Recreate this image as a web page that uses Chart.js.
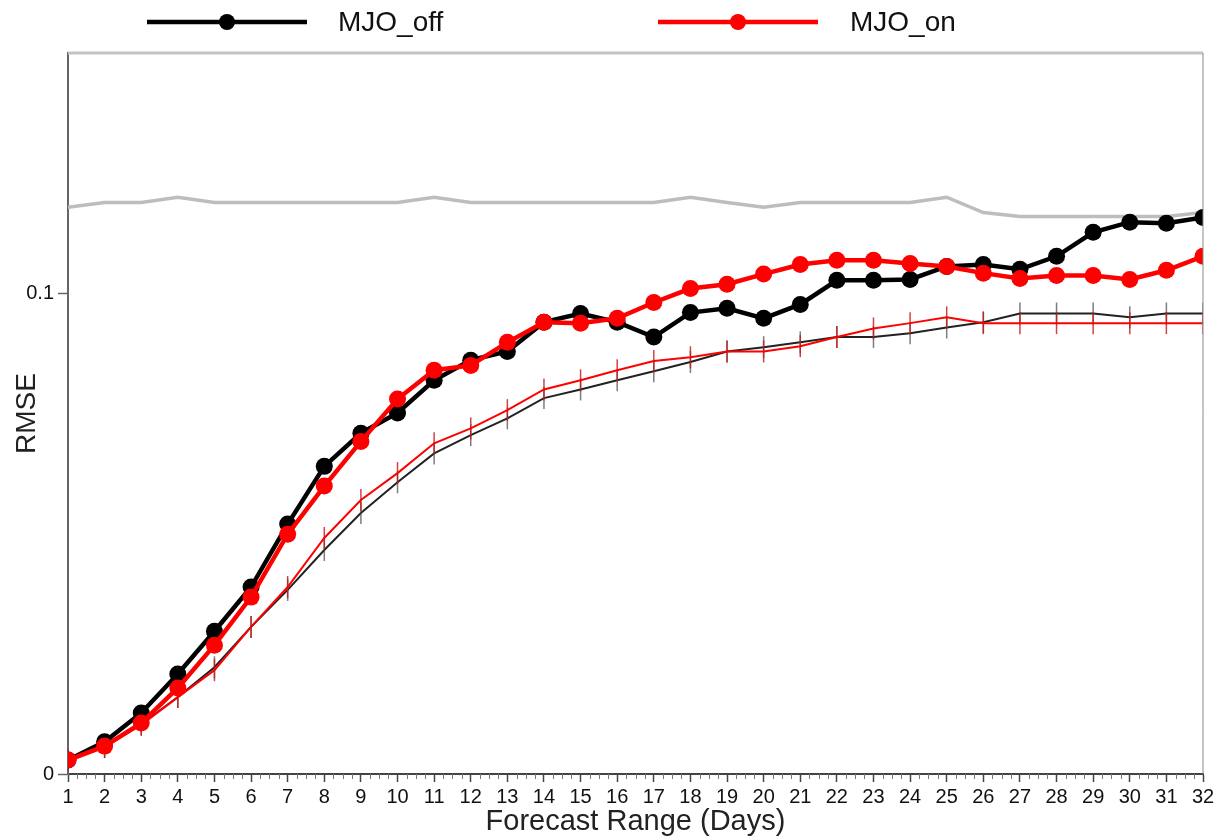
<!DOCTYPE html>
<html>
<head>
<meta charset="utf-8">
<script src="https://cdn.jsdelivr.net/npm/chart.js@4.4.1/dist/chart.umd.min.js"></script>
<style>
  html, body { margin: 0; padding: 0; background: #fff; }
  #wrap { width: 1219px; height: 839px; }
</style>
</head>
<body>
<div id="wrap"><canvas id="myChart" width="1219" height="839"></canvas></div>
<script>
const days = [1,2,3,4,5,6,7,8,9,10,11,12,13,14,15,16,17,18,19,20,21,22,23,24,25,26,27,28,29,30,31,32];
const yTicks = [0, 0.1];

const mjoOff = [0.0029,0.0067,0.0127,0.0208,0.0297,0.0389,0.0520,0.0640,0.0709,0.0751,0.0819,0.0861,0.0879,0.0940,0.0958,0.0940,
  0.0909,0.0960,0.0969,0.0948,0.0977,0.1027,0.1027,0.1029,0.1056,0.1060,0.1050,0.1077,0.1127,0.1148,0.1146,0.1158];
const mjoOn = [0.0029,0.0058,0.0106,0.0179,0.0268,0.0368,0.0499,0.0599,0.0692,0.0780,0.0840,0.0850,0.0898,0.0940,0.0938,0.0948,
  0.0981,0.1010,0.1019,0.1040,0.1060,0.1069,0.1069,0.1062,0.1056,0.1042,0.1031,0.1037,0.1037,0.1029,0.1048,0.1077];
const spreadOff = [0.0029,0.0056,0.0104,0.0160,0.0222,0.0306,0.0383,0.0466,0.0543,0.0607,0.0667,0.0705,0.0740,0.0782,0.0800,0.0819,
  0.0838,0.0857,0.0879,0.0888,0.0898,0.0909,0.0909,0.0917,0.0929,0.0940,0.0958,0.0958,0.0958,0.0950,0.0958,0.0958];
const spreadOn = [0.0029,0.0056,0.0102,0.0160,0.0216,0.0306,0.0389,0.0491,0.0570,0.0626,0.0688,0.0719,0.0757,0.0800,0.0819,0.0840,
  0.0859,0.0867,0.0879,0.0879,0.0890,0.0909,0.0927,0.0938,0.0950,0.0938,0.0938,0.0938,0.0938,0.0938,0.0938,0.0938];
const climo = [0.1179,0.1189,0.1189,0.1200,0.1189,0.1189,0.1189,0.1189,0.1189,0.1189,0.1200,0.1189,0.1189,0.1189,0.1189,0.1189,
  0.1189,0.1200,0.1189,0.1179,0.1189,0.1189,0.1189,0.1189,0.1200,0.1168,0.1160,0.1160,0.1160,0.1160,0.1160,0.1168];

const toXY = (arr) => arr.map((v, i) => ({ x: days[i], y: v }));
const FONT = '"Liberation Sans", Arial, sans-serif';

// legend, frame and minor ticks
const extras = {
  id: "extras",
  afterDraw(chart) {
    const ctx = chart.ctx;
    const a = chart.chartArea;
    const xs = chart.scales.x;
    ctx.save();
    // top frame + right frame
    ctx.strokeStyle = "#c4c4c4";
    ctx.lineWidth = 3;
    ctx.beginPath(); ctx.moveTo(a.left, a.top); ctx.lineTo(a.right, a.top); ctx.stroke();
    ctx.strokeStyle = "#8a8a8a";
    ctx.lineWidth = 1;
    ctx.beginPath(); ctx.moveTo(a.right, a.top); ctx.lineTo(a.right, a.bottom); ctx.stroke();
    // minor ticks
    ctx.strokeStyle = "#777";
    ctx.lineWidth = 1;
    for (let d = 1; d < 32; d++) {
      for (let q = 1; q < 4; q++) {
        const px = Math.round(xs.getPixelForValue(d + q / 4)) + 0.5;
        ctx.beginPath(); ctx.moveTo(px, a.bottom); ctx.lineTo(px, a.bottom + 5); ctx.stroke();
      }
    }
    // legend
    const items = [
      { label: "MJO_off", color: "#000", x0: 147, x1: 307, tx: 338 },
      { label: "MJO_on", color: "#ff0000", x0: 658, x1: 818, tx: 850 }
    ];
    items.forEach((it) => {
      ctx.strokeStyle = it.color;
      ctx.fillStyle = it.color;
      ctx.lineWidth = 4.5;
      ctx.beginPath(); ctx.moveTo(it.x0, 22); ctx.lineTo(it.x1, 22); ctx.stroke();
      ctx.beginPath(); ctx.arc((it.x0 + it.x1) / 2, 22, 8, 0, Math.PI * 2); ctx.fill();
      ctx.fillStyle = "#111";
      ctx.font = "28px " + FONT;
      ctx.textBaseline = "middle";
      ctx.fillText(it.label, it.tx, 23);
    });
    ctx.restore();
  }
};

new Chart(document.getElementById("myChart"), {
  type: "line",
  data: {
    datasets: [
      { label: "MJO_on", data: toXY(mjoOn), borderColor: "#ff0000", backgroundColor: "#ff0000",
        borderWidth: 4.5, pointRadius: 8.5, pointBorderWidth: 0 },
      { label: "MJO_off", data: toXY(mjoOff), borderColor: "#000", backgroundColor: "#000",
        borderWidth: 4.5, pointRadius: 8.5, pointBorderWidth: 0 },
      { label: "spread_on", data: toXY(spreadOn), borderColor: "#ff0000", borderWidth: 2,
        pointStyle: "line", rotation: 90, pointRadius: 11, pointBorderWidth: 1.5, pointBorderColor: "rgba(200,20,20,0.8)" },
      { label: "spread_off", data: toXY(spreadOff), borderColor: "#222", borderWidth: 2,
        pointStyle: "line", rotation: 90, pointRadius: 11, pointBorderWidth: 1.5, pointBorderColor: "rgba(70,70,70,0.7)" },
      { label: "climo", data: toXY(climo), borderColor: "#bdbdbd", borderWidth: 3.5, pointRadius: 0 }
    ]
  },
  options: {
    responsive: false,
    animation: false,
    layout: { padding: { top: 53, right: 16, left: 0, bottom: 0 } },
    plugins: { legend: { display: false }, tooltip: { enabled: false } },
    scales: {
      x: {
        type: "linear", min: 1, max: 32,
        afterFit: (s) => { s.height = 65; },
        afterBuildTicks: (s) => { s.ticks = days.map((d) => ({ value: d })); },
        ticks: { autoSkip: false, maxRotation: 0, color: "#111", padding: 3, font: { family: FONT, size: 20 } },
        grid: { drawOnChartArea: false, drawTicks: true, tickLength: 8, tickColor: "#444", tickWidth: 1.5 },
        border: { color: "#444", width: 2 },
        title: { display: true, text: "Forecast Range (Days)", color: "#222", padding: 0, font: { family: FONT, size: 29 } }
      },
      y: {
        min: 0, max: 0.15,
        afterFit: (s) => { s.width = 68; },
        afterBuildTicks: (s) => { s.ticks = yTicks.map((v) => ({ value: v })); },
        ticks: { color: "#111", padding: 4, font: { family: FONT, size: 20 },
          callback: (v) => (v === 0 ? "0" : String(v)) },
        grid: { drawOnChartArea: false, drawTicks: true, tickLength: 10, tickColor: "#666", tickWidth: 1.5 },
        border: { color: "#666", width: 2 },
        title: { display: true, text: "RMSE", color: "#222", padding: { top: 10, bottom: 0 }, font: { family: FONT, size: 28 } }
      }
    }
  },
  plugins: [extras]
});
</script>
</body>
</html>
